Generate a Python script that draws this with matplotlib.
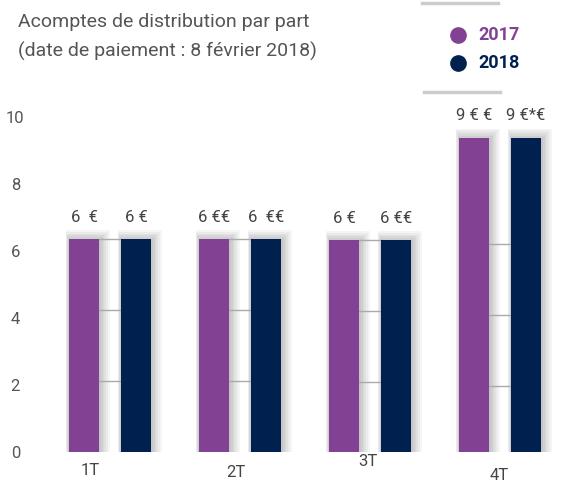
import numpy as np
import matplotlib.pyplot as plt
from matplotlib.patches import Rectangle

quarters = ["1T", "2T", "3T", "4T"]
vals_2017 = [6, 6, 6, 9]
vals_2018 = [6, 6, 6, 9]
labels_2017 = ["6  €", "6 €€", "6 €", "9 € €"]
labels_2018 = ["6 €", "6  €€", "6 €€", "9 €*€"]
yticks = [0, 2, 4, 6, 8, 10]

purple = "#834194"
navy = "#00214f"
grey_txt = "#555555"

plt.rcParams['font.family'] = ['Roboto', 'DejaVu Sans']

fig = plt.figure(figsize=(5.71, 4.88), dpi=100)
W, H = 571, 488
# axes: x=0 at 110px, 130px per group; y=0 at 452px, 35.5px per unit
left_px, right_px = 32, 571
bot_px, top_px = 452, 90
scale = 35.5
ax = fig.add_axes([left_px / W, 1 - bot_px / H, (right_px - left_px) / W, (bot_px - top_px) / H])
ax.set_xlim(-0.6, 3.546)
ax.set_ylim(0, (bot_px - top_px) / scale)

x = np.arange(len(quarters))
off = 0.2
bw = 0.23
# each group in the original sits a few pixels lower or higher (layout only)
shift = np.array([0, 0, -1, -5]) / scale

def shadow(xc, b, h):
    for k in range(1, 7):
        d = k * 0.01
        ax.add_patch(Rectangle((xc - bw / 2 - d * 0.4, b - 0.05), bw + d * 1.8, h + d * 5,
                               color="black", alpha=0.04, lw=0, zorder=1))

for i in range(len(quarters)):
    b = shift[i]
    shadow(x[i] - off, b, vals_2017[i])
    shadow(x[i] + off, b, vals_2018[i])
    # grey lines between bars
    for t in [2, 4, 6]:
        ax.plot([x[i] - off + bw / 2, x[i] + off - bw / 2], [t + b, t + b], color="#aaaaaa", lw=1, zorder=2)
    # baseline
    ax.plot([x[i] - off - bw / 2 + 0.02, x[i] + off + bw / 2 + 0.03], [b - 0.12, b - 0.12],
            color="#a0a0a0", lw=2.5, zorder=2, solid_capstyle="butt")

ax.bar(x - off, vals_2017, width=bw, bottom=shift, color=purple, zorder=3)
ax.bar(x + off, vals_2018, width=bw, bottom=shift, color=navy, zorder=3)

lab_dx = [-0.15, -0.03, -0.02, -0.01]
lab_dy = [-0.3, -0.38, -0.05, -0.45]
for i in range(len(quarters)):
    ax.text(x[i] - off, vals_2017[i] + shift[i] + 0.4, labels_2017[i], ha="center", va="bottom",
            fontsize=12, color="#444444")
    ax.text(x[i] + off, vals_2018[i] + shift[i] + 0.4, labels_2018[i], ha="center", va="bottom",
            fontsize=12, color="#444444")
    ax.text(x[i] + lab_dx[i], lab_dy[i], quarters[i], ha="center", va="top",
            fontsize=12, color="#444444")

ax.set_yticks([])
ax.set_xticks([])
for s in ax.spines.values():
    s.set_visible(False)

# tick labels on their own scale (33.5 px per unit)
sec = ax.secondary_yaxis('left', functions=(lambda v: v * scale / 33.5, lambda v: v * 33.5 / scale))
sec.set_yticks(yticks)
sec.set_yticklabels([str(t) for t in yticks], fontsize=12, color=grey_txt)
sec.tick_params(axis="y", length=0, pad=12)
for lab in sec.get_yticklabels():
    lab.set_horizontalalignment("center")
sec.spines["left"].set_visible(False)

fig.text(18 / W, 1 - 22 / H, "Acomptes de distribution par part", fontsize=14,
         color=grey_txt, va="center")
fig.text(18 / W, 1 - 51 / H, "(date de paiement : 8 février 2018)", fontsize=14,
         color=grey_txt, va="center")

# legend
fig.add_artist(plt.Line2D([422 / W, 498 / W], [1 - 3 / H, 1 - 3 / H], color="#cccccc", lw=2.5))
fig.add_artist(plt.Line2D([424 / W, 500 / W], [1 - 92 / H, 1 - 92 / H], color="#cccccc", lw=2.5))
for yy, c, t in [(35, purple, "2017"), (63, navy, "2018")]:
    fig.add_artist(plt.Line2D([458 / W], [1 - yy / H], marker="o", markersize=11, color=c, lw=0))
    fig.text(478 / W, 1 - yy / H, t, fontsize=13, color=c, fontweight="bold", va="center")

fig.savefig("out.png", dpi=100)
